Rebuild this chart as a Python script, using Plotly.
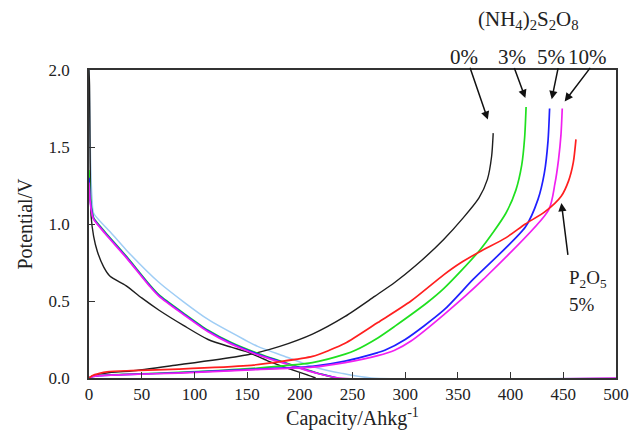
import plotly.graph_objects as go

# ---- charge curves (capacity in Ah/kg, potential in V) ----
black_chg_x = [0, 3, 10, 20, 40, 85, 141, 160, 181, 212, 243, 271, 290, 310, 336.5, 355, 370, 378, 382, 383.5]
black_chg_y = [0, 0.012, 0.025, 0.036, 0.045, 0.086, 0.14, 0.165, 0.205, 0.285, 0.40, 0.53, 0.62, 0.73, 0.90, 1.04, 1.17, 1.29, 1.44, 1.59]

red_chg_x = [0, 3, 10, 17, 40, 85, 150, 180, 212, 228, 243, 274, 305.5, 336.5, 352, 370.7, 395.4, 414, 432.7, 448, 455, 459.5, 462]
red_chg_y = [0, 0.015, 0.03, 0.04, 0.048, 0.058, 0.08, 0.105, 0.14, 0.18, 0.225, 0.36, 0.50, 0.67, 0.745, 0.82, 0.91, 1.0, 1.08, 1.18, 1.28, 1.40, 1.55]

green_chg_x = [0, 3, 10, 40, 85, 160, 212, 243, 252.7, 274, 290, 321, 336.5, 370.7, 395.5, 405, 410.5, 413.3, 414.7]
green_chg_y = [0, 0.01, 0.018, 0.026, 0.036, 0.065, 0.10, 0.155, 0.18, 0.26, 0.335, 0.49, 0.58, 0.83, 1.07, 1.22, 1.38, 1.56, 1.76]

blue_chg_x = [0, 3, 10, 40, 85, 160, 212, 243, 274, 280.6, 300, 336.5, 364.4, 414, 426, 432, 435.5, 437]
blue_chg_y = [0, 0.009, 0.016, 0.024, 0.034, 0.058, 0.076, 0.11, 0.165, 0.18, 0.25, 0.44, 0.64, 0.98, 1.16, 1.33, 1.54, 1.75]

magenta_chg_x = [0, 3, 10, 40, 85, 160, 212, 243, 274, 290, 305.5, 336.5, 374, 436, 442, 445.5, 447.8, 449]
magenta_chg_y = [0, 0.008, 0.015, 0.023, 0.032, 0.055, 0.07, 0.10, 0.145, 0.18, 0.24, 0.41, 0.64, 1.09, 1.26, 1.42, 1.58, 1.75]

# ---- discharge curves ----
black_dis_x = [0, 0.5, 1, 2, 4.4, 8, 14, 20, 35, 50, 66.5, 90, 113, 135, 150, 170, 190, 205, 215]
black_dis_y = [2.0, 1.9, 1.5, 1.05, 0.92, 0.82, 0.72, 0.66, 0.60, 0.52, 0.44, 0.34, 0.25, 0.20, 0.17, 0.11, 0.06, 0.025, 0]

lblue_dis_x = [0, 0.5, 1.5, 3, 4.4, 20, 35.5, 66.5, 113, 150, 160, 190, 212, 240, 268, 500]
lblue_dis_y = [2.0, 1.8, 1.4, 1.15, 1.07, 0.95, 0.83, 0.62, 0.38, 0.24, 0.205, 0.13, 0.075, 0.03, 0, 0]

green_dis_x = [0, 1, 3, 4.4, 15, 35.5, 57, 66.5, 90, 113, 135, 160, 190, 215, 234]
green_dis_y = [1.35, 1.2, 1.08, 1.04, 0.95, 0.79, 0.61, 0.54, 0.42, 0.31, 0.23, 0.16, 0.09, 0.035, 0]

blue_dis_x = [0, 1, 3, 4.4, 15, 35.5, 57, 66.5, 90, 113, 135, 160, 190, 215, 236]
blue_dis_y = [1.30, 1.17, 1.07, 1.035, 0.945, 0.785, 0.605, 0.535, 0.415, 0.305, 0.225, 0.155, 0.088, 0.034, 0]

magenta_dis_x = [0, 1, 3, 4.4, 15, 35.5, 57, 66.5, 90, 113, 135, 160, 190, 215, 238, 500]
magenta_dis_y = [1.27, 1.15, 1.06, 1.03, 0.94, 0.78, 0.60, 0.53, 0.41, 0.30, 0.22, 0.15, 0.085, 0.033, 0, 0]

x_ticks = [0, 50, 100, 150, 200, 250, 300, 350, 400, 450, 500]
y_ticks = [0.0, 0.5, 1.0, 1.5, 2.0]

BLACK = "#1e1e1e"
LBLUE = "#9fcdf5"
GREEN = "#1fe01f"
BLUE = "#1f1fff"
MAGENTA = "#f020f0"
RED = "#ff1f1f"

fig = go.Figure()

def add(x, y, color, width=1.7):
    fig.add_trace(go.Scatter(x=x, y=y, mode="lines",
                             line=dict(color=color, width=width, shape="spline", smoothing=0.7),
                             showlegend=False, hoverinfo="skip"))

add(lblue_dis_x, lblue_dis_y, LBLUE, 1.5)
add(black_dis_x, black_dis_y, BLACK, 1.4)
add(black_chg_x, black_chg_y, BLACK, 1.4)
add(green_dis_x, green_dis_y, GREEN)
add(blue_dis_x, blue_dis_y, BLUE)
add(magenta_dis_x, magenta_dis_y, MAGENTA)
add(green_chg_x, green_chg_y, GREEN)
add(blue_chg_x, blue_chg_y, BLUE)
add(magenta_chg_x, magenta_chg_y, MAGENTA)
add(red_chg_x, red_chg_y, RED)

FONT = "Liberation Serif"
axis_common = dict(
    showline=True, linecolor="#333", linewidth=1.8, mirror=True,
    ticks="inside", ticklen=6, tickwidth=1.3, tickcolor="#333",
    showgrid=False, zeroline=False,
    tickfont=dict(family=FONT, size=17, color="#222"),
)

fig.update_xaxes(range=[0, 500], tickvals=x_ticks, ticktext=[str(v) for v in x_ticks],
                 title=dict(text="Capacity/Ahkg<sup>-1</sup>", font=dict(family=FONT, size=20, color="#222"), standoff=8),
                 **axis_common)
fig.update_yaxes(range=[0, 2.0], tickvals=y_ticks, ticktext=[f"{v:.1f}" for v in y_ticks],
                 ticklabelstandoff=14,
                 title=dict(text="Potential/V", font=dict(family=FONT, size=20, color="#222"), standoff=10),
                 **axis_common)

ann_font = dict(family=FONT, size=21, color="#222")
labels = [
    ("(NH<sub>4</sub>)<sub>2</sub>S<sub>2</sub>O<sub>8</sub>", 0.834, 1.162),
    ("0%", 0.711, 1.042),
    ("3%", 0.803, 1.042),
    ("5%", 0.877, 1.042),
    ("10%", 0.946, 1.042),
]
for text, px, py in labels:
    fig.add_annotation(text=text, x=px, y=py, xref="paper", yref="paper",
                       showarrow=False, font=ann_font, xanchor="center", yanchor="middle")

side_font = dict(family=FONT, size=19, color="#222")
fig.add_annotation(text="P<sub>2</sub>O<sub>5</sub>", x=0.909, y=0.323, xref="paper", yref="paper",
                   showarrow=False, font=side_font, xanchor="left", yanchor="middle", borderpad=0)
fig.add_annotation(text="5%", x=0.909, y=0.238, xref="paper", yref="paper",
                   showarrow=False, font=side_font, xanchor="left", yanchor="middle", borderpad=0)

# arrows: head at a data point, tail offset in pixels
arrows = [
    (378.4, 1.678, -18.3, -53.3),
    (414.0, 1.818, -11.6, -31.6),
    (439.0, 1.810, 6.7, -32.6),
    (451.3, 1.796, 26.7, -35.0),
    (448.2, 1.136, 6.7, 53.4),
]
for hx, hy, ax, ay in arrows:
    fig.add_annotation(x=hx, y=hy, xref="x", yref="y", ax=ax, ay=ay, text="",
                       showarrow=True, arrowhead=2, arrowsize=1.1, arrowwidth=1.5,
                       arrowcolor="#111", standoff=0)

fig.update_layout(
    width=641, height=443,
    margin=dict(l=89, r=15, t=70, b=65),
    paper_bgcolor="white", plot_bgcolor="white",
    font=dict(family=FONT),
)

fig.write_html("out.html")
